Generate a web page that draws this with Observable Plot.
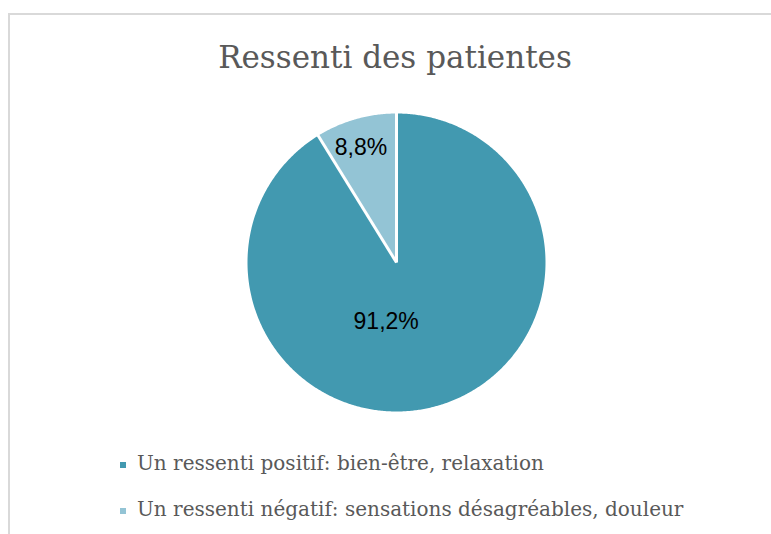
<!DOCTYPE html>
<html><head><meta charset="utf-8">
<script src="https://cdn.jsdelivr.net/npm/d3@7"></script>
<script src="https://cdn.jsdelivr.net/npm/@observablehq/plot@0.6"></script>
<style>
body{margin:0;background:#fff;}
#wrap{position:relative;width:771px;height:534px;overflow:hidden;background:#fff;}
#plot{position:absolute;left:0;top:0;}
#frame{position:absolute;left:8px;top:13px;width:900px;height:700px;border:2px solid #d9d9d9;box-sizing:border-box;}
#title{position:absolute;left:0;width:790px;top:42px;text-align:center;font-family:"DejaVu Serif";font-size:31px;line-height:31px;color:#595959;white-space:nowrap;}
.leg{position:absolute;left:120px;font-family:"DejaVu Serif";font-size:20px;line-height:20px;color:#595959;white-space:nowrap;}
.sw{display:inline-block;width:6px;height:6px;margin-right:11px;vertical-align:middle;}
</style>
</head><body>
<div id="wrap"><div id="plot"></div><div id="frame"></div><div id="title"></div></div>
<script>
const title = "Ressenti des patientes";
const categories = ["Un ressenti positif: bien-être, relaxation", "Un ressenti négatif: sensations désagréables, douleur"];
const values = [91.2, 8.8];
const labels = ["91,2%", "8,8%"];
const colors = ["#4299B0", "#93C4D5"];

const rows = categories.map((c, i) => ({category: c, value: values[i], label: labels[i], color: colors[i]}));
const arcs = d3.pie().sort(null).value(d => d.value)(rows);

function wedge(a) {
  const pts = [{x: 0, y: 0}];
  const n = Math.max(2, Math.ceil((a.endAngle - a.startAngle) / (Math.PI / 360)));
  for (let k = 0; k <= n; ++k) {
    const t = a.startAngle + (a.endAngle - a.startAngle) * k / n;
    pts.push({x: Math.sin(t), y: Math.cos(t)});
  }
  pts.push({x: 0, y: 0});
  return pts;
}
const mid = a => (a.startAngle + a.endAngle) / 2;

const chart = Plot.plot({
  width: 771,
  height: 534,
  margin: 0,
  style: {background: "transparent"},
  x: {domain: [-1, 1], range: [247, 545], axis: null},
  y: {domain: [-1, 1], range: [411, 113], axis: null},
  marks: [
    ...arcs.map(a => Plot.line(wedge(a), {x: "x", y: "y", fill: a.data.color, stroke: "none", curve: "linear"})),
    Plot.link(arcs, {x1: () => 0, y1: () => 0, x2: a => 1.02 * Math.sin(a.startAngle), y2: a => 1.02 * Math.cos(a.startAngle), stroke: "white", strokeWidth: 3}),
    Plot.text([arcs[0]], {x: a => 0.41 * Math.sin(mid(a)), y: a => 0.41 * Math.cos(mid(a)), text: a => a.data.label, dx: -27, fontSize: 23, fontFamily: "Liberation Sans", fill: "#000"}),
    Plot.text([arcs[1]], {x: a => 0.8 * Math.sin(mid(a)), y: a => 0.8 * Math.cos(mid(a)), text: a => a.data.label, dx: -3, fontSize: 23, fontFamily: "Liberation Sans", fill: "#000"})
  ]
});
document.getElementById("plot").appendChild(chart);
document.getElementById("title").textContent = title;

const wrap = document.getElementById("wrap");
const tops = [453, 499];
rows.forEach((r, i) => {
  const div = document.createElement("div");
  div.className = "leg";
  div.style.top = tops[i] + "px";
  const sw = document.createElement("span");
  sw.className = "sw";
  sw.style.background = r.color;
  div.appendChild(sw);
  div.appendChild(document.createTextNode(r.category));
  wrap.appendChild(div);
});
</script>
</body></html>
